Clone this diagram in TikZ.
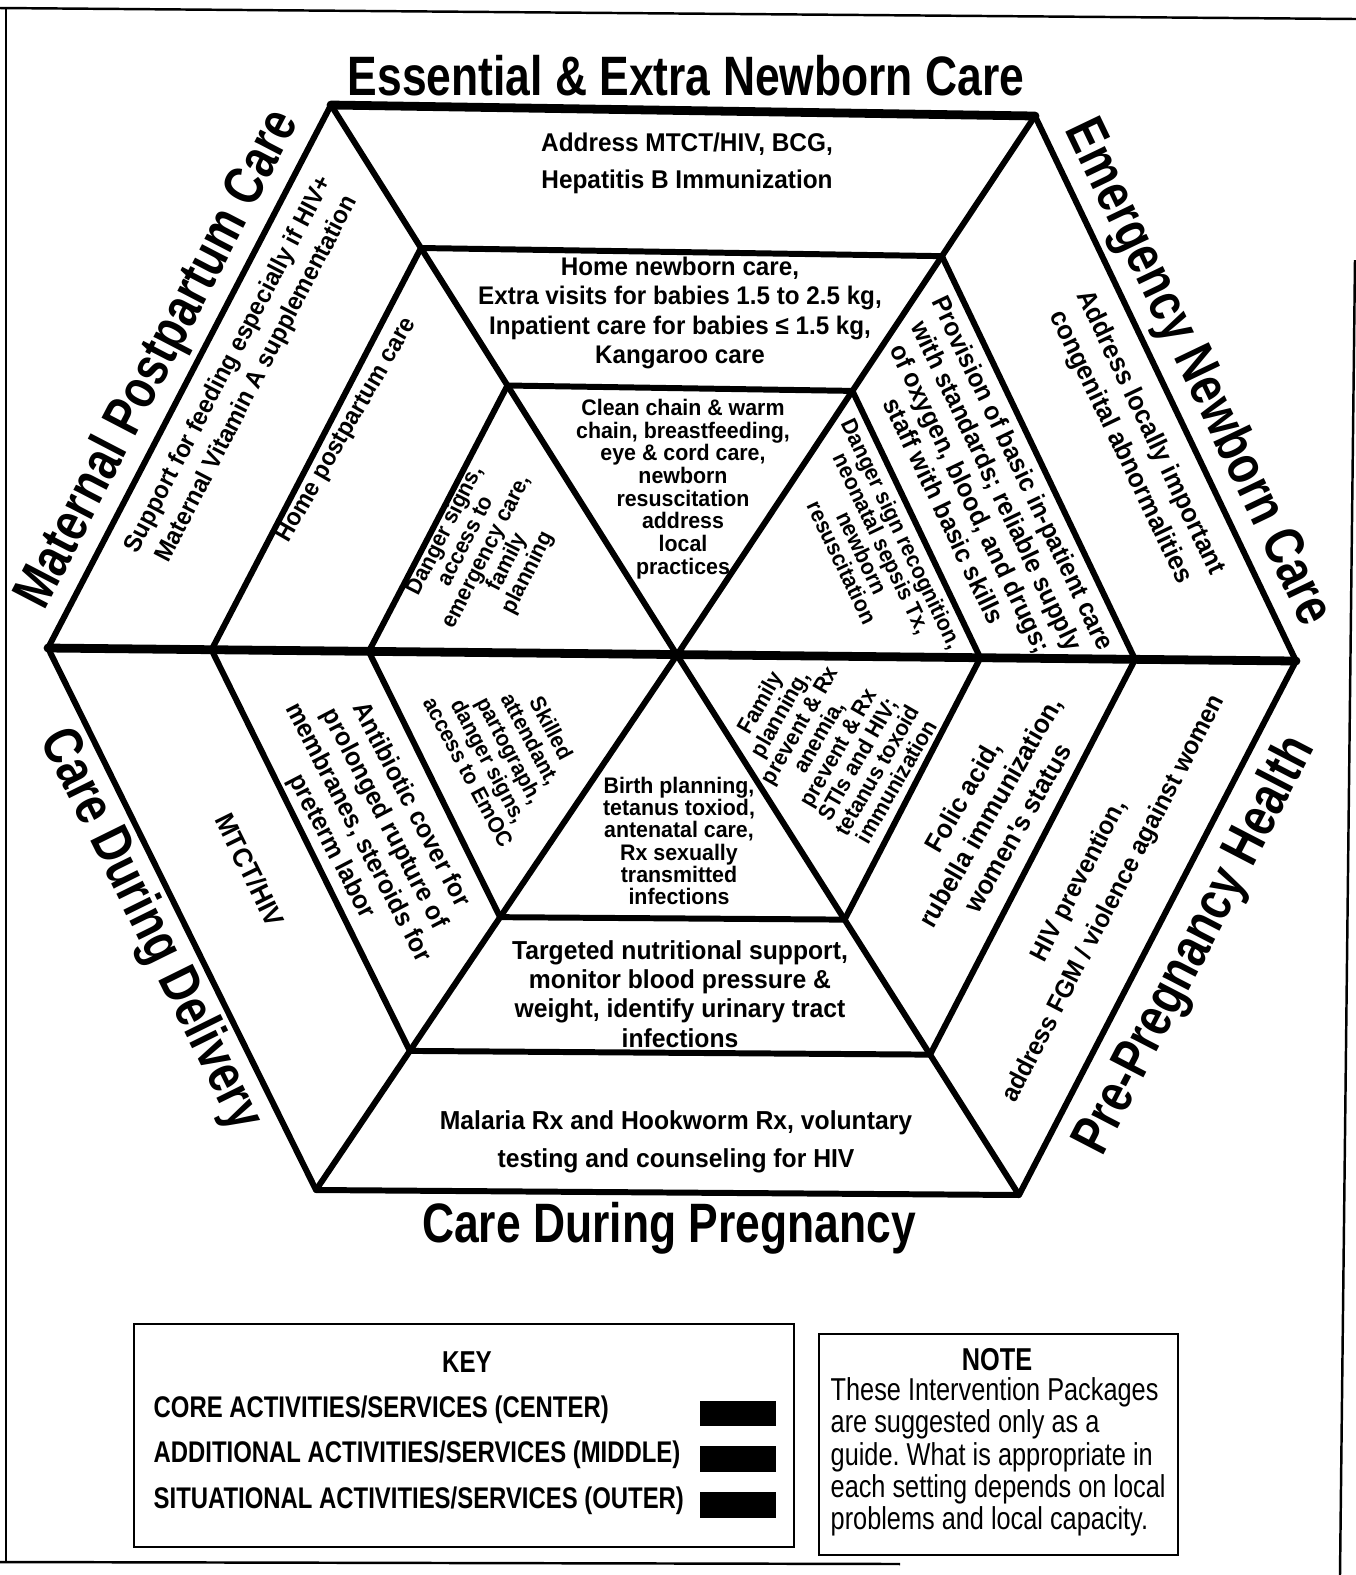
\documentclass[tikz,border=0pt]{standalone}
\usepackage{fontspec}
\setmainfont{Liberation Sans}[FakeStretch=0.8]
\newfontfamily\bodyfont{Liberation Sans}[FakeStretch=0.95]
\usepackage{tkz-euclide}
\newcommand\setfs[2]{\fontsize{#1}{#2}\selectfont}
\frenchspacing

\begin{document}
\begin{tikzpicture}[
  title/.style={font=\bfseries\setfs{15.8}{18}},
  txt/.style={align=center,inner sep=0pt},
  keytxt/.style={anchor=west,inner sep=0pt,font=\bfseries\setfs{8.5}{10}},
  swatch/.style={fill=black}]
\useasboundingbox (0,0) rectangle (13.56,-15.75);
\tkzSetUpLine[line width=1.7pt,color=black]

\tkzDefPoints{6.77/-6.55/C,3.31/-1.05/O1,10.35/-1.16/O2,12.96/-6.61/O3,10.19/-11.95/O4,3.16/-11.90/O5,0.48/-6.48/O6}
\tkzDefPointsBy[homothety=center C ratio .74](O1,O2,O3,O4,O5,O6){M1,M2,M3,M4,M5,M6}
\tkzDefPointsBy[homothety=center C ratio .49](O1,O2,O3,O4,O5,O6){I1,I2,I3,I4,I5,I6}

\draw[line width=.7pt] (0,-0.08) -- (13.56,-0.19);
\draw[line width=.7pt] (0.06,-0.08) -- (0.06,-15.62);
\draw[line width=.7pt] (13.55,-2.6) -- (13.40,-15.75);
\draw[line width=.7pt] (0,-15.62) -- (9.0,-15.64);

\tkzDrawPolygon[line width=1.7pt](O1,O2,O3,O4,O5,O6)
\tkzDrawPolygon[line width=1.7pt](M1,M2,M3,M4,M5,M6)
\tkzDrawPolygon[line width=1.7pt](I1,I2,I3,I4,I5,I6)
\tkzDrawSegments[line width=1.7pt](C,O1 C,O2 C,O4 C,O5)
\tkzDrawSegments[line width=2.5pt](O6,O3 O1,O2)

\node[title] (tEss) at (6.86,-0.76) {Essential \& Extra Newborn Care};
\node[title,rotate=-64.4] (tEmg) at (11.97,-3.73) {Emergency Newborn Care};
\node[title,rotate=62.6] (tPre) at (11.96,-9.46) {Pre-Pregnancy Health};
\node[title] (tPreg) at (6.69,-12.28) {Care During Pregnancy};
\node[title,rotate=-63.7] (tDel) at (1.50,-9.30) {Care During Delivery};
\node[title,rotate=62.5] (tMat) at (1.59,-3.60) {Maternal Postpartum Care};

\node[txt,font=\bodyfont\bfseries\setfs{7.3}{10.5}] (oTop) at (6.87,-1.63) {Address MTCT/HIV, BCG,\\Hepatitis B Immunization};
\node[txt,font=\bodyfont\bfseries\setfs{7.25}{8.4}] (mTop) at (6.80,-3.13) {Home newborn care,\\Extra visits for babies 1.5 to 2.5 kg,\\Inpatient care for babies ≤ 1.5 kg,\\Kangaroo care};
\node[txt,font=\bodyfont\bfseries\setfs{6.4}{6.45}] (iTop) at (6.83,-4.89) {Clean chain \& warm\\chain, breastfeeding,\\eye \& cord care,\\newborn\\resuscitation\\address\\local\\practices};

\node[txt,rotate=-64.4,font=\bodyfont\bfseries\setfs{7.6}{9.4}] (oEmg) at (11.35,-4.40) {Address locally important\\congenital abnormalities};
\node[txt,rotate=-64.4,font=\bodyfont\bfseries\setfs{7.4}{8.3}] (mEmg) at (9.84,-4.92) {Provision of basic in-patient care\\with standards; reliable supply\\of oxygen, blood, and drugs;\\staff with basic skills};
\node[txt,rotate=-64.4,font=\bodyfont\bfseries\setfs{6.4}{6.3}] (iEmg) at (8.72,-5.48) {Danger sign recognition,\\neonatal sepsis Tx,\\newborn\\resuscitation};

\node[txt,rotate=62.6,font=\bodyfont\bfseries\setfs{7.3}{11}] (oPre) at (10.97,-8.90) {HIV prevention,\\address FGM / violence against women};
\node[txt,rotate=60,font=\bodyfont\bfseries\setfs{7.6}{9}] (mPre) at (9.90,-8.12) {Folic acid,\\rubella immunization,\\women's status};
\node[txt,rotate=60,font=\bodyfont\bfseries\setfs{6.4}{6.4}] (iPre) at (8.28,-7.42) {Family\\planning,\\prevent \& Rx\\anemia,\\prevent \& Rx\\STIs and HIV;\\tetanus toxoid\\immunization};

\node[txt,font=\bodyfont\bfseries\setfs{7.4}{10.8}] (oPreg) at (6.76,-11.42) {Malaria Rx and Hookworm Rx, voluntary\\testing and counseling for HIV};
\node[txt,font=\bodyfont\bfseries\setfs{7.4}{8.35}] (mPreg) at (6.80,-9.94) {Targeted nutritional support,\\monitor blood pressure \&\\weight, identify urinary tract\\infections};
\node[txt,font=\bodyfont\bfseries\setfs{6.4}{6.3}] (iPreg) at (6.79,-8.41) {Birth planning,\\tetanus toxiod,\\antenatal care,\\Rx sexually\\transmitted\\infections};

\node[txt,rotate=-63.7,font=\bodyfont\bfseries\setfs{7.75}{10}] (oDel) at (2.50,-8.70) {MTCT/HIV};
\node[txt,rotate=-62.5,font=\bodyfont\bfseries\setfs{7.4}{8.5}] (mDel) at (3.71,-8.26) {Antibiotic cover for\\prolonged rupture of\\membranes, steroids for\\preterm labor};
\node[txt,rotate=-62,font=\bodyfont\bfseries\setfs{6.3}{6.7}] (iDel) at (5.10,-7.50) {Skilled\\attendant,\\partograph,\\danger signs,\\access to EmOC};

\node[txt,rotate=62.5,font=\bodyfont\bfseries\setfs{7.1}{9}] (oMat) at (2.43,-3.72) {Support for feeding especially if HIV+\\Maternal Vitamin A supplementation};
\node[txt,rotate=60,font=\bodyfont\bfseries\setfs{7}{9}] (mMat) at (3.47,-4.30) {Home postpartum care};
\node[txt,rotate=63,font=\bodyfont\bfseries\setfs{6.4}{6.6}] (iMat) at (4.87,-5.52) {Danger signs,\\access to\\emergency care,\\family\\planning};

\draw[line width=.8pt] (1.34,-13.24) rectangle (7.94,-15.47);
\node[inner sep=0pt,font=\bfseries\setfs{8.6}{10}] (key) at (4.67,-13.62) {KEY};
\node[keytxt] (kCore) at (1.53,-14.10) {CORE ACTIVITIES/SERVICES (CENTER)};
\node[keytxt] (kAdd) at (1.53,-14.55) {ADDITIONAL ACTIVITIES/SERVICES (MIDDLE)};
\node[keytxt] (kSit) at (1.53,-15.01) {SITUATIONAL ACTIVITIES/SERVICES (OUTER)};
\fill[swatch] (7.00,-14.01) rectangle (7.76,-14.26);
\fill[swatch] (7.00,-14.46) rectangle (7.76,-14.72);
\fill[swatch] (7.00,-14.92) rectangle (7.76,-15.18);

\draw[line width=.8pt] (8.19,-13.34) rectangle (11.78,-15.55);
\node[inner sep=0pt,font=\bfseries\setfs{9}{10}] (note) at (9.97,-13.60) {NOTE};
\node[anchor=west,align=left,inner sep=0pt,font=\setfs{9}{9.2}] (noteTxt) at (8.30,-14.57) {These Intervention Packages\\are suggested only as a\\guide. What is appropriate in\\each setting depends on local\\problems and local capacity.};
\end{tikzpicture}
\end{document}
